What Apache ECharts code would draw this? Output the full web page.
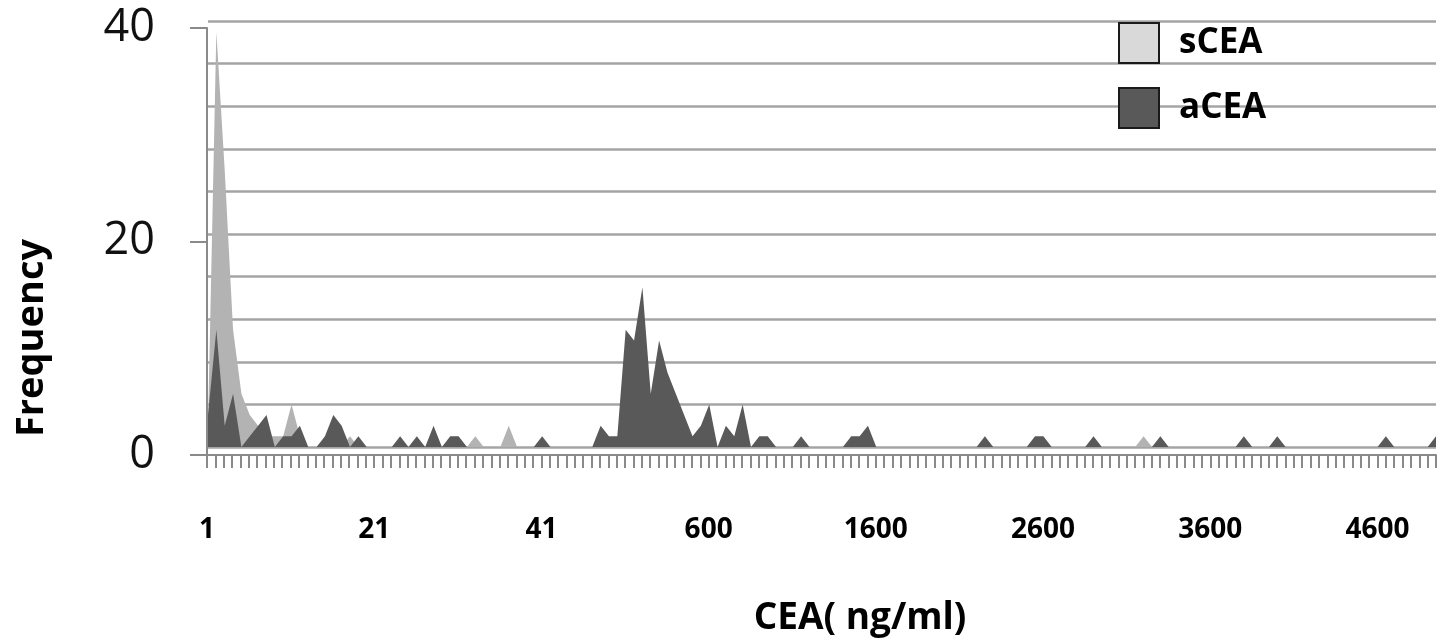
<!DOCTYPE html>
<html>
<head>
<meta charset="utf-8">
<script src="https://cdn.jsdelivr.net/npm/echarts@6/dist/echarts.min.js"></script>
<style>
html,body{margin:0;padding:0;background:#fff;}
#chart{width:1439px;height:644px;}
</style>
</head>
<body>
<div id="chart"></div>
<script>
// Categories: CEA values 1..50 then 100..4950 step 50
const categories = [
  '1','2','3','4','5','6','7','8','9','10','11','12','13','14','15','16','17','18','19','20',
  '21','22','23','24','25','26','27','28','29','30','31','32','33','34','35','36','37','38','39','40',
  '41','42','43','44','45','46','47','48','49','50',
  '100','150','200','250','300','350','400','450','500','550',
  '600','650','700','750','800','850','900','950','1000','1050',
  '1100','1150','1200','1250','1300','1350','1400','1450','1500','1550',
  '1600','1650','1700','1750','1800','1850','1900','1950','2000','2050',
  '2100','2150','2200','2250','2300','2350','2400','2450','2500','2550',
  '2600','2650','2700','2750','2800','2850','2900','2950','3000','3050',
  '3100','3150','3200','3250','3300','3350','3400','3450','3500','3550',
  '3600','3650','3700','3750','3800','3850','3900','3950','4000','4050',
  '4100','4150','4200','4250','4300','4350','4400','4450','4500','4550',
  '4600','4650','4700','4750','4800','4850','4900','4950'
];

const sCEA = [
  2,39,26,11,5,3,2,1,1,1, 4,1,0,0,0,0,0,1,0,0,
  0,0,0,0,0,0,0,0,0,0, 0,0,1,0,0,0,2,0,0,0,
  0,0,0,0,0,0,0,0,0,0, 0,0,0,0,0,0,0,0,0,0,
  0,0,0,0,0,0,0,0,0,0, 0,0,0,0,0,0,0,0,0,0,
  0,0,0,0,0,0,0,0,0,0, 0,0,0,0,0,0,0,0,0,0,
  0,0,0,0,0,0,0,0,0,0, 0,0,1,0,0,0,0,0,0,0,
  0,0,0,0,0,0,0,0,0,0, 0,0,0,0,0,0,0,0,0,0,
  0,0,0,0,0,0,0,0
];

const aCEA = [
  3,11,2,5,0,1,2,3,0,1, 1,2,0,0,1,3,2,0,1,0,
  0,0,0,1,0,1,0,2,0,1, 1,0,0,0,0,0,0,0,0,0,
  1,0,0,0,0,0,0,2,1,1, 11,10,15,5,10,7,5,3,1,2,
  4,0,2,1,4,0,1,1,0,0, 0,1,0,0,0,0,0,1,1,2,
  0,0,0,0,0,0,0,0,0,0, 0,0,0,1,0,0,0,0,0,1,
  1,0,0,0,0,0,1,0,0,0, 0,0,0,0,1,0,0,0,0,0,
  0,0,0,0,1,0,0,0,1,0, 0,0,0,0,0,0,0,0,0,0,
  0,1,0,0,0,0,0,1
];

const yTickLabels = [0, 20, 40];
const seriesNames = ['sCEA', 'aCEA'];

const FONT = '"Open Sans", "Noto Sans", sans-serif';
const chart = echarts.init(document.getElementById('chart'), null, {renderer: 'canvas'});

chart.setOption({
  animation: false,
  backgroundColor: '#ffffff',
  grid: [
    {left: 208, right: 3, top: 21, bottom: 197},
    {left: 207, right: 3, top: 28, bottom: 189}
  ],
  legend: {
    orient: 'vertical',
    left: 1118,
    top: 22,
    padding: 0,
    itemWidth: 40,
    itemHeight: 40,
    itemGap: 23,
    icon: 'rect',
    data: [
      {name: seriesNames[0], itemStyle: {color: '#d9d9d9', borderColor: '#1a1a1a', borderWidth: 2}},
      {name: seriesNames[1], itemStyle: {color: '#595959', borderColor: '#1a1a1a', borderWidth: 2}}
    ],
    textStyle: {fontFamily: FONT, fontSize: 35, fontWeight: 'bold', color: '#000', padding: [0, 0, 0, 15]}
  },
  xAxis: [
    {
      type: 'category', gridIndex: 0, data: categories, boundaryGap: false, show: false
    },
    {
      type: 'category', gridIndex: 1, data: categories, boundaryGap: false,
      axisLine: {show: true, lineStyle: {color: '#8a8a8a', width: 2}},
      axisTick: {show: true, interval: 0, length: 13, lineStyle: {color: '#8a8a8a', width: 2}},
      axisLabel: {interval: 19, margin: 61, fontFamily: FONT, fontSize: 28, fontWeight: 'bold', color: '#000'}
    }
  ],
  yAxis: [
    {
      type: 'value', gridIndex: 0, min: 0, max: 40, interval: 4,
      axisLine: {show: false}, axisTick: {show: false}, axisLabel: {show: false},
      splitLine: {show: true, lineStyle: {color: '#a4a4a4', width: 2.5}}
    },
    {
      type: 'value', gridIndex: 1, min: yTickLabels[0], max: yTickLabels[2], interval: yTickLabels[1] - yTickLabels[0],
      axisLine: {show: true, lineStyle: {color: '#8a8a8a', width: 2}},
      axisTick: {show: true, length: 17, lineStyle: {color: '#8a8a8a', width: 2}},
      splitLine: {show: false},
      axisLabel: {margin: 52, fontFamily: FONT, fontSize: 45, color: '#111'}
    }
  ],
  graphic: [
    {
      type: 'text', x: 32, y: 338, rotation: Math.PI / 2,
      style: {text: 'Frequency', font: 'bold 38px ' + FONT, fill: '#000', align: 'center', verticalAlign: 'middle'}
    },
    {
      type: 'text', x: 860, y: 618,
      style: {text: 'CEA( ng/ml)', font: 'bold 37px ' + FONT, fill: '#000', align: 'center', verticalAlign: 'middle'}
    }
  ],
  series: [
    {
      name: seriesNames[0], type: 'line', xAxisIndex: 0, yAxisIndex: 0, data: sCEA,
      symbol: 'none', smooth: false, z: 2,
      itemStyle: {color: '#b3b3b3'},
      lineStyle: {width: 0, color: '#b3b3b3'},
      areaStyle: {color: '#b3b3b3', opacity: 1}
    },
    {
      name: seriesNames[1], type: 'line', xAxisIndex: 0, yAxisIndex: 0, data: aCEA,
      symbol: 'none', smooth: false, z: 3,
      itemStyle: {color: '#595959'},
      lineStyle: {width: 0, color: '#595959'},
      areaStyle: {color: '#595959', opacity: 1}
    }
  ]
});
</script>
</body>
</html>
